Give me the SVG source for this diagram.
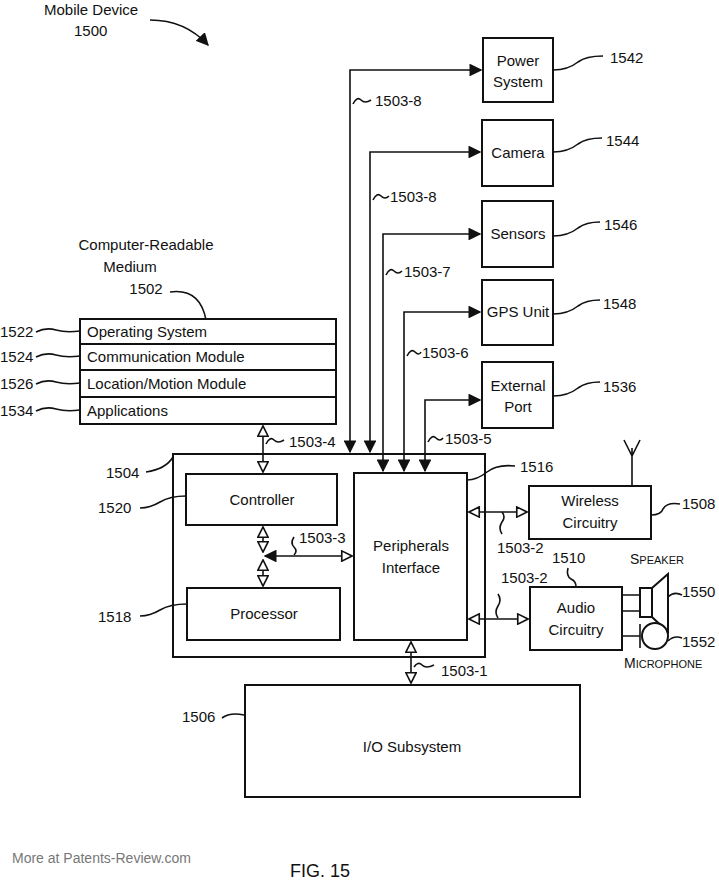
<svg xmlns="http://www.w3.org/2000/svg" width="719" height="880" viewBox="0 0 719 880">
<style>
text{font-family:"Liberation Sans",Arial,sans-serif;font-size:15px;fill:#111}
.b{fill:#fff;stroke:#111;stroke-width:2}
.l{fill:none;stroke:#111;stroke-width:1.6}
.c{text-anchor:middle}
</style>
<defs>
<marker id="f" viewBox="0 0 10 10" refX="9" refY="5" markerWidth="8" markerHeight="8" orient="auto-start-reverse"><path d="M0,0L10,5L0,10z" fill="#111"/></marker>
<marker id="o" viewBox="0 0 10 10" refX="9" refY="5" markerWidth="8" markerHeight="8" orient="auto-start-reverse"><path d="M1,1L9,5L1,9z" fill="#fff" stroke="#111" stroke-width="1.3"/></marker>
</defs>
<rect width="719" height="880" fill="#fff"/>
<text x="44" y="15">Mobile Device</text><text x="74" y="36">1500</text>
<path class="l" d="M150,20 Q185,20 208,45" marker-end="url(#f)"/>
<g id="n1542"><rect class="b" x="483" y="38" width="70" height="64"/><text class="c" x="518" y="66">Power</text><text class="c" x="518" y="87">System</text><text x="610" y="63">1542</text><path class="l" d="M553,70 q15,0 25,-8 q8,-6 25,-6"/></g>
<g id="n1544"><rect class="b" x="482" y="120" width="71" height="66"/><text class="c" x="518" y="158">Camera</text><text x="606" y="146">1544</text><path class="l" d="M553,152 q15,0 25,-8 q8,-6 24,-6"/></g>
<g id="n1546"><rect class="b" x="482" y="201" width="71" height="66"/><text class="c" x="518" y="239">Sensors</text><text x="604" y="230">1546</text><path class="l" d="M553,236 q15,0 25,-8 q8,-6 22,-6"/></g>
<g id="n1548"><rect class="b" x="482" y="280" width="71" height="65"/><text class="c" x="518" y="317">GPS Unit</text><text x="603" y="309">1548</text><path class="l" d="M553,314 q15,0 25,-8 q8,-6 22,-6"/></g>
<g id="n1536"><rect class="b" x="482" y="362" width="71" height="66"/><text class="c" x="518" y="391">External</text><text class="c" x="518" y="412">Port</text><text x="603" y="392">1536</text><path class="l" d="M553,396 q15,0 25,-8 q8,-6 22,-6"/></g>
<g id="n1502"><text class="c" x="146" y="250">Computer-Readable</text><text class="c" x="130" y="272">Medium</text><text class="c" x="146" y="294">1502</text>
<path class="l" d="M170,292 q30,-4 36,28"/>
<rect class="b" x="80" y="319" width="256" height="25"/><rect class="b" x="80" y="344" width="256" height="26"/><rect class="b" x="80" y="370" width="256" height="27"/><rect class="b" x="80" y="397" width="256" height="27"/>
<text x="87" y="337">Operating System</text><text x="87" y="362">Communication Module</text><text x="87" y="389">Location/Motion Module</text><text x="87" y="416">Applications</text>
<text x="0" y="337">1522</text><text x="0" y="362">1524</text><text x="0" y="389">1526</text><text x="0" y="416">1534</text>
<path class="l" d="M36,332 q10,-5 20,-2 q10,3 24,1 M36,357 q10,-5 20,-2 q10,3 24,1 M36,384 q10,-5 20,-2 q10,3 24,1 M36,411 q10,-5 20,-2 q10,3 24,1"/></g>
<g id="n1504"><rect class="b" x="173" y="454" width="312" height="203"/><text x="106" y="478">1504</text><path class="l" d="M146,472 q20,-3 27,-15"/></g>
<g id="n1520"><rect class="b" x="186" y="474" width="151" height="51"/><text class="c" x="262" y="505">Controller</text><text x="98" y="513">1520</text><path class="l" d="M140,508 q10,0 20,-6 q10,-6 26,-6"/></g>
<g id="n1518"><rect class="b" x="187" y="588" width="153" height="52"/><text class="c" x="264" y="619">Processor</text><text x="98" y="622">1518</text><path class="l" d="M140,616 q10,0 20,-6 q10,-6 27,-6"/></g>
<g id="n1516"><rect class="b" x="354" y="473" width="113" height="167"/><text class="c" x="411" y="551">Peripherals</text><text class="c" x="411" y="573">Interface</text><text x="520" y="472">1516</text><path class="l" d="M467,480 q10,0 20,-8 q10,-8 28,-6"/></g>
<g id="n1508"><rect class="b" x="529" y="486" width="122" height="53"/><text class="c" x="590" y="506">Wireless</text><text class="c" x="590" y="528">Circuitry</text><text x="682" y="509">1508</text><path class="l" d="M651,515 q10,0 12,-6 q4,-7 17,-5"/>
<path class="l" d="M632,486 V448 M624,440 L632,456 L640,440"/></g>
<g id="n1510"><rect class="b" x="530" y="587" width="92" height="63"/><text class="c" x="576" y="613">Audio</text><text class="c" x="576" y="635">Circuitry</text><text x="552" y="563">1510</text><path class="l" d="M576,587 q0,-6 -5,-8 q-5,-3 -3,-11"/></g>
<g id="n1550"><path class="l" d="M622,595 H640 M622,611 H640"/><rect class="b" x="640" y="588" width="12" height="29"/><path class="b" d="M652,588 L668,574 V632 L652,617z"/><text x="630" y="564" style="font-size:14px">S<tspan style="font-size:11px">PEAKER</tspan></text><text x="682" y="597">1550</text><path class="l" d="M668,597 q6,-6 14,-2"/></g>
<g id="n1552"><path class="l" d="M622,636 H640 M640,624 V648"/><circle class="b" cx="655" cy="636" r="13"/><text x="624" y="668" style="font-size:14px">M<tspan style="font-size:11px">ICROPHONE</tspan></text><text x="682" y="647">1552</text><path class="l" d="M668,641 q6,-6 14,-3"/></g>
<g id="n1506"><rect class="b" x="245" y="685" width="335" height="112"/><text class="c" x="412" y="752">I/O Subsystem</text><text x="182" y="722">1506</text><path class="l" d="M222,718 q8,-6 22,-3"/></g>
<g id="connectors">
<path class="l" d="M350,452 V70 H481" marker-start="url(#f)" marker-end="url(#f)"/>
<path class="l" d="M370,452 V152 H480" marker-start="url(#f)" marker-end="url(#f)"/>
<path class="l" d="M383,471 V234 H480" marker-start="url(#f)" marker-end="url(#f)"/>
<path class="l" d="M404,471 V312 H480" marker-start="url(#f)" marker-end="url(#f)"/>
<path class="l" d="M425,471 V400 H480" marker-start="url(#f)" marker-end="url(#f)"/>
<path class="l" d="M263,426 V472" marker-start="url(#o)" marker-end="url(#o)"/>
<path class="l" d="M263,527 V552" marker-start="url(#o)" marker-end="url(#o)"/>
<path class="l" d="M263,560 V586" marker-start="url(#o)" marker-end="url(#o)"/>
<path class="l" d="M265,556 H352" marker-start="url(#f)" marker-end="url(#o)"/>
<path class="l" d="M411,642 V683" marker-start="url(#o)" marker-end="url(#o)"/>
<path class="l" d="M469,512 H527" marker-start="url(#o)" marker-end="url(#o)"/>
<path class="l" d="M469,619 H528" marker-start="url(#o)" marker-end="url(#o)"/>
<text x="375" y="106">1503-8</text><path class="l" d="M353,104 q4,-8 8,-4 q4,4 10,0"/>
<text x="390" y="202">1503-8</text><path class="l" d="M373,200 q4,-8 8,-4 q4,4 8,0"/>
<text x="404" y="277">1503-7</text><path class="l" d="M386,275 q4,-8 8,-4 q4,4 8,0"/>
<text x="422" y="358">1503-6</text><path class="l" d="M407,356 q4,-8 8,-4 q4,4 6,0"/>
<text x="445" y="444">1503-5</text><path class="l" d="M428,442 q4,-8 8,-4 q4,4 7,0"/>
<text x="289" y="447">1503-4</text><path class="l" d="M266,444 q4,-8 8,-4 q4,4 10,0"/>
<text x="299" y="543">1503-3</text><path class="l" d="M294,555 q4,-4 0,-8 q-4,-4 0,-10"/>
<text x="441" y="676">1503-1</text><path class="l" d="M414,667 q4,-6 8,-2 q4,4 12,0"/>
<text x="497" y="553">1503-2</text><path class="l" d="M502,512 q4,5 0,10 q-4,6 0,12"/>
<text x="501" y="583">1503-2</text><path class="l" d="M498,618 q-4,-6 0,-12 q4,-6 0,-12"/>
</g>
<text x="12" y="863" style="font-size:14px;fill:#777">More at Patents-Review.com</text>
<text x="290" y="877" style="font-size:18px">FIG. 15</text>
</svg>
